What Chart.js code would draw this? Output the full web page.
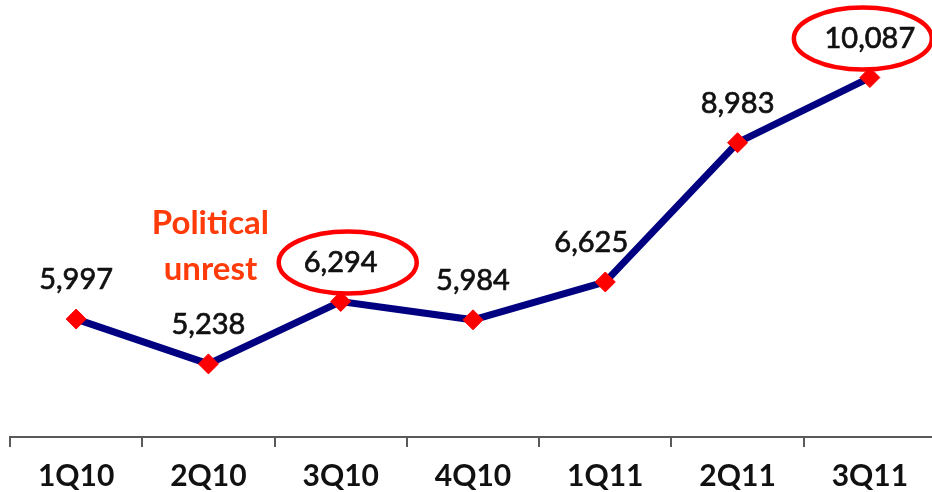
<!DOCTYPE html>
<html>
<head>
<meta charset="utf-8">
<script src="https://cdn.jsdelivr.net/npm/chart.js@4/dist/chart.umd.min.js"></script>
<style>
	html, body { margin: 0; padding: 0; background: #fff; overflow: hidden; }
	#wrap { position: relative; width: 932px; height: 492px; overflow: hidden; }
	#box { position: absolute; left: 0; top: 0; width: 940px; height: 492px; }
</style>
</head>
<body>
<div id="wrap"><div id="box"><canvas id="myChart"></canvas></div></div>
<script>
const quarters = ['1Q10', '2Q10', '3Q10', '4Q10', '1Q11', '2Q11', '3Q11']
const values = [5997, 5238, 6294, 5984, 6625, 8983, 10087]
const circled = [2, 6]
const noteIndex = 1
const noteLines = ['Political', 'unrest']

const labelPlugin = {
	id: 'pointLabels',
	afterDatasetsDraw(chart) {
		const ctx = chart.ctx
		const pts = chart.getDatasetMeta(0).data
		ctx.save()
		ctx.textAlign = 'center'
		ctx.textBaseline = 'middle'
		ctx.font = '29px Lato'
		ctx.fillStyle = '#111'
		ctx.strokeStyle = '#111'
		ctx.lineWidth = 0.7
		pts.forEach((p, i) => {
			const dx = i === 4 ? -14 : 0
			const ly = p.y - 39
			const txt = values[i].toLocaleString('en-US')
			ctx.fillText(txt, p.x + dx, ly)
			ctx.strokeText(txt, p.x + dx, ly)
		})
		// red rings round the highlighted values
		circled.forEach(i => {
			const p = pts[i]
			const shift = i === pts.length - 1 ? -7 : 7
			ctx.beginPath()
			ctx.ellipse(p.x + shift, p.y - 39, 69, 31, 0, 0, Math.PI * 2)
			ctx.strokeStyle = '#ff0000'
			ctx.lineWidth = 4.5
			ctx.stroke()
		})
		// annotation
		const np = pts[noteIndex]
		ctx.font = 'bold 33px Lato'
		ctx.fillStyle = '#ff3b0a'
		ctx.fillText(noteLines[0], np.x + 2, np.y - 141)
		ctx.fillText(noteLines[1], np.x + 2, np.y - 95)
		ctx.restore()
	}
}

new Chart(document.getElementById('myChart'), {
	type: 'line',
	data: {
		labels: quarters,
		datasets: [
			{
				data: values,
				borderColor: '#000080',
				borderWidth: 7,
				pointStyle: 'rectRot',
				pointRadius: 10,
				pointBackgroundColor: '#ff0000',
				pointBorderColor: '#ff0000',
				pointBorderWidth: 1,
				tension: 0,
			},
		],
	},
	options: {
		responsive: true,
		maintainAspectRatio: false,
		animation: false,
		clip: false,
		layout: {
			autoPadding: false,
			padding: { left: 10, right: 4, top: 0, bottom: 0 }
		},
		plugins: {
			legend: { display: false },
			tooltip: { enabled: false },
		},
		scales: {
			x: {
				offset: true,
				afterFit: scale => { scale.height = 55 },
				grid: {
					offset: true,
					drawOnChartArea: false,
					drawTicks: true,
					tickLength: 10,
					color: '#5a5a5a',
					lineWidth: 2,
				},
				border: { display: true, color: '#5a5a5a', width: 2 },
				ticks: {
					color: '#111',
					padding: 11,
					font: { family: 'Lato', size: 30, weight: 'bold' },
				},
			},
			y: {
				display: false,
				min: 4000,
				max: 11400,
			},
		},
	},
	plugins: [labelPlugin],
})
</script>
</body>
</html>
